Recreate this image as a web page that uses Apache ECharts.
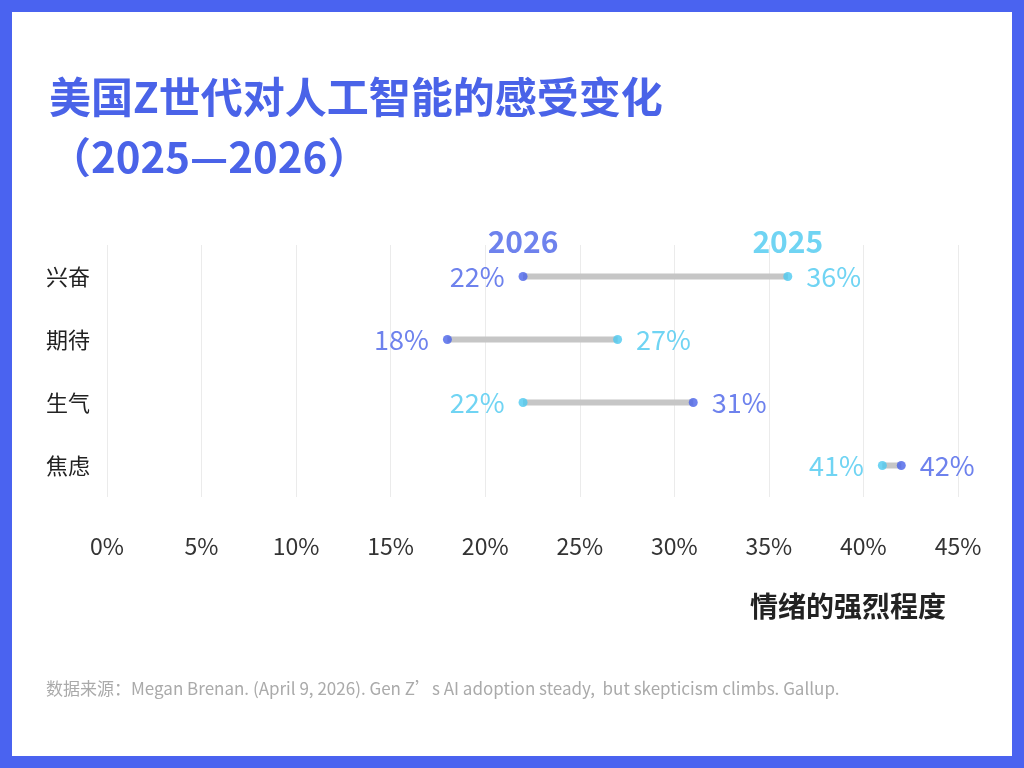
<!DOCTYPE html>
<html><head><meta charset="utf-8">
<script src="https://cdn.jsdelivr.net/npm/echarts@6/dist/echarts.min.js"></script>
<style>
html,body{margin:0;padding:0;background:#fff;}
#wrap{position:absolute;left:0;top:0;width:1000px;height:744px;border:12px solid #4a63f0;}
#c{width:1000px;height:744px;}
</style></head><body>
<div id="wrap"><div id="c"></div></div>
<script>
const categories = ["兴奋", "期待", "生气", "焦虑"];
const y2026 = [22, 18, 31, 42];
const y2025 = [36, 27, 22, 41];
const C26 = "#4a63e8", C25 = "#4cc9f0";
const FONT = "'Noto Sans CJK SC', 'Noto Sans', sans-serif";

const chart = echarts.init(document.getElementById("c"));

// 낮은 값은 왼쪽, 높은 값은 오른쪽에 라벨
function pts(vals, other) {
  return vals.map((v, i) => ({
    value: [v, categories[i]],
    label: { position: v <= other[i] ? "left" : "right" },
  }));
}

function dotSeries(name, vals, other, color) {
  return {
    name, type: "scatter", symbolSize: 9, z: 5,
    itemStyle: { color },
    label: { show: true, distance: 14, color, fontSize: 27, fontFamily: FONT,
      formatter: p => p.value[0] + "%" },
    data: pts(vals, other),
  };
}

function header(text, val, color) {
  return {
    type: "scatter", symbolSize: 0, silent: true,
    itemStyle: { color },
    label: { show: true, position: "top", distance: 20, formatter: text,
      color, fontSize: 30, fontWeight: "bold", fontFamily: FONT },
    data: [[val, categories[0]]],
  };
}

chart.setOption({
  title: {
    text: "美国Z世代对人工智能的感受变化\n（2025—2026）",
    left: 32, top: 50,
    textStyle: { color: "#4a63e8", fontSize: 42, fontWeight: "bold", lineHeight: 60, fontFamily: FONT },
  },
  graphic: [
    { type: "text", right: 66, top: 580,
      style: { text: "情绪的强烈程度", fill: "#222", font: "bold 28px " + FONT } },
    { type: "text", left: 34, top: 668,
      style: { text: "数据来源：Megan Brenan. (April 9, 2026). Gen Z’s AI adoption steady,  but skepticism climbs. Gallup.",
        fill: "#aaa", font: "17px " + FONT } },
  ],
  grid: { left: 95, right: 54, top: 233, bottom: 259 },
  xAxis: {
    type: "value", min: 0, max: 45, interval: 5,
    axisLabel: { formatter: "{value}%", color: "#333", fontSize: 23, margin: 38, fontFamily: FONT },
    axisLine: { show: false }, axisTick: { show: false },
    splitLine: { lineStyle: { color: "#ebebeb" } },
  },
  yAxis: {
    type: "category", data: categories, inverse: true,
    axisLine: { show: false }, axisTick: { show: false },
    axisLabel: { color: "#222", fontSize: 22, align: "left", margin: 61, fontFamily: FONT },
  },
  series: [
    {
      type: "custom", z: 1,
      renderItem: (params, api) => {
        const a = api.coord([api.value(0), api.value(2)]);
        const b = api.coord([api.value(1), api.value(2)]);
        return { type: "line", shape: { x1: a[0], y1: a[1], x2: b[0], y2: b[1] },
          style: { stroke: "#c6c6c6", lineWidth: 6 } };
      },
      encode: { x: [0, 1], y: 2 },
      data: categories.map((c, i) => [y2026[i], y2025[i], i]),
    },
    dotSeries("2026", y2026, y2025, C26),
    dotSeries("2025", y2025, y2026, C25),
    header("2026", y2026[0], C26),
    header("2025", y2025[0], C25),
  ],
});
</script>
</body></html>
